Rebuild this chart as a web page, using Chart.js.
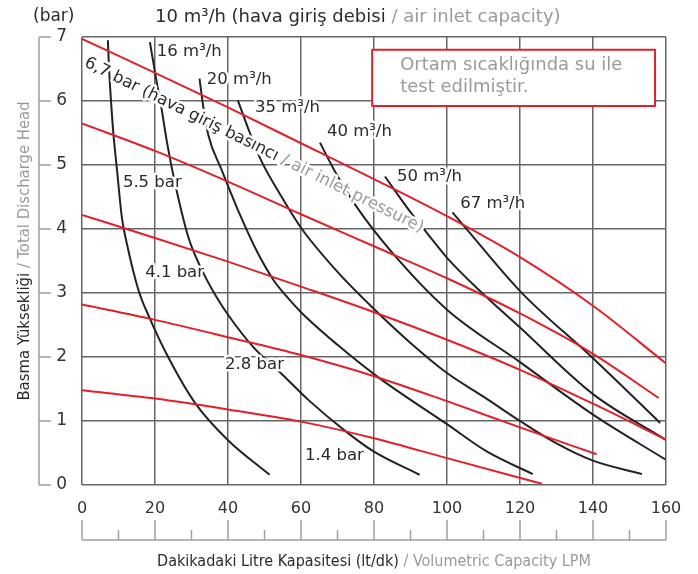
<!DOCTYPE html>
<html>
<head>
<meta charset="utf-8">
<script src="https://cdn.jsdelivr.net/npm/chart.js@4.4.1/dist/chart.umd.min.js"></script>
<style>
  html, body { margin: 0; padding: 0; background: #fff; }
</style>
</head>
<body>
<canvas id="myChart" width="698" height="574"></canvas>
<script>
// red curves: discharge head for each air inlet pressure
const bar67X = [0, 20, 40, 60, 80, 100, 120, 140, 160];
const bar67Y = [6.97, 6.44, 5.9, 5.34, 4.78, 4.2, 3.56, 2.8, 1.9];
const bar55X = [0, 20, 40, 60, 80, 100, 120, 140, 158];
const bar55Y = [5.65, 5.22, 4.74, 4.23, 3.73, 3.23, 2.68, 2.05, 1.36];
const bar41X = [0, 20, 40, 60, 80, 100, 120, 140, 160];
const bar41Y = [4.22, 3.86, 3.49, 3.1, 2.7, 2.27, 1.8, 1.27, 0.71];
const bar28X = [0, 20, 40, 60, 80, 100, 120, 141];
const bar28Y = [2.82, 2.58, 2.31, 2.03, 1.7, 1.31, 0.9, 0.48];
const bar14X = [0, 20, 40, 60, 80, 100, 126];
const bar14Y = [1.48, 1.35, 1.18, 0.99, 0.73, 0.42, 0.02];

// black curves: air consumption (m3/h)
const air10X = [7.1, 7.3, 7.7, 8.6, 9.6, 10.9, 12.3, 15.5, 18.6, 23.6, 31, 40, 51.4];
const air10Y = [6.95, 6.64, 6.22, 5.49, 4.92, 4.19, 3.77, 3.04, 2.6, 2.0, 1.28, 0.7, 0.16];
const air16X = [18.6, 20.3, 21.8, 23.3, 25.5, 29.1, 32.5, 36.8, 40, 47, 55, 62, 72, 80, 92.5];
const air16Y = [6.92, 6.35, 5.88, 5.35, 4.71, 3.88, 3.4, 2.94, 2.66, 2.15, 1.72, 1.33, 0.85, 0.52, 0.16];
const air20X = [32.2, 33.2, 34.6, 38.2, 42.7, 48.2, 52.5, 56, 60, 70, 81, 100, 111, 123.5];
const air20Y = [6.35, 5.92, 5.47, 4.93, 4.3, 3.62, 3.2, 2.95, 2.7, 2.19, 1.69, 0.95, 0.52, 0.17];
const air35X = [42.7, 46, 49, 54.5, 60, 70, 80, 90, 100, 110, 120, 130, 140, 153.4];
const air35Y = [6.01, 5.5, 5.08, 4.52, 4.02, 3.33, 2.75, 2.22, 1.75, 1.38, 1.0, 0.65, 0.38, 0.17];
const air40X = [65.2, 69.3, 75.2, 84.7, 100, 120, 140, 159.8];
const air40Y = [5.35, 4.9, 4.35, 3.65, 2.74, 1.92, 1.1, 0.4];
const air50X = [83, 89.9, 94.9, 100, 110, 120, 140, 159.8];
const air50Y = [4.82, 4.27, 3.91, 3.55, 2.98, 2.46, 1.42, 0.71];
const air67X = [101.5, 105.5, 120, 140, 158.4];
const air67Y = [4.26, 3.99, 3.03, 1.98, 0.97];

// text labels on the plot
const flowLabels = ['16 m³/h', '20 m³/h', '35 m³/h', '40 m³/h', '50 m³/h', '67 m³/h'];
const flowLabelX = [20.5, 34.2, 47.4, 67.1, 86.3, 103.6];
const flowLabelY = [6.77, 6.33, 5.9, 5.52, 4.81, 4.39];
const barLabels = ['5.5 bar', '4.1 bar', '2.8 bar', '1.4 bar'];
const barLabelX = [11.2, 17.3, 39.2, 61.1];
const barLabelY = [4.73, 3.31, 1.875, 0.45];

const FONT = "'DejaVu Sans', sans-serif";
const NARROW = "'DejaVu Sans Condensed', 'DejaVu Sans', sans-serif";
const DARK = '#2b2b2b';
const GREY = '#9a9a9a';
const RED = '#e2202b';

function pts(xs, ys) {
    return xs.map((x, i) => ({ x: x, y: ys[i] }));
}

function curve(xs, ys, color) {
    return {
        data: pts(xs, ys),
        borderColor: color,
        borderWidth: 2,
        pointRadius: 0,
        fill: false,
        cubicInterpolationMode: 'monotone',
    };
}

// draw text made of [text, colour] pieces, with a white halo first
function mixedText(ctx, parts, x, y, halo) {
    let cx = x;
    const xs = parts.map(p => { const s = cx; cx += ctx.measureText(p[0]).width; return s; });
    if (halo) {
        ctx.lineWidth = halo;
        ctx.lineJoin = 'round';
        ctx.strokeStyle = '#fff';
        parts.forEach((p, i) => ctx.strokeText(p[0], xs[i], y));
    }
    parts.forEach((p, i) => {
        ctx.fillStyle = p[1];
        ctx.fillText(p[0], xs[i], y);
    });
}

const decor = {
    id: 'decor',
    afterDatasetsDraw(chart) {
        const ctx = chart.ctx;
        const xs = chart.scales.x, ys = chart.scales.y;
        const area = chart.chartArea;
        ctx.save();
        ctx.textBaseline = 'middle';
        ctx.textAlign = 'left';

        // flow & pressure labels
        ctx.font = '16.5px ' + FONT;
        flowLabels.forEach((t, i) => {
            mixedText(ctx, [[t, DARK]], xs.getPixelForValue(flowLabelX[i]), ys.getPixelForValue(flowLabelY[i]), 5);
        });
        barLabels.forEach((t, i) => {
            mixedText(ctx, [[t, DARK]], xs.getPixelForValue(barLabelX[i]), ys.getPixelForValue(barLabelY[i]), 5);
        });

        // rotated pressure caption
        ctx.save();
        ctx.translate(xs.getPixelForValue(0.9), ys.getPixelForValue(6.61));
        ctx.rotate(26.3 * Math.PI / 180);
        ctx.font = '16.5px ' + FONT;
        mixedText(ctx, [['6,7 bar (hava giriş basıncı ', DARK], ['/ air inlet pressure)', GREY]], 0, 0, 5);
        ctx.restore();

        // note box
        const bx0 = xs.getPixelForValue(79.5), bx1 = xs.getPixelForValue(157);
        const by0 = ys.getPixelForValue(6.8), by1 = ys.getPixelForValue(5.92);
        ctx.fillStyle = '#fff';
        ctx.fillRect(bx0, by0, bx1 - bx0, by1 - by0);
        ctx.strokeStyle = RED;
        ctx.lineWidth = 2;
        ctx.strokeRect(bx0, by0, bx1 - bx0, by1 - by0);
        ctx.font = '18px ' + FONT;
        ctx.fillStyle = GREY;
        ctx.fillText('Ortam sıcaklığında su ile', bx0 + 28, by0 + 16);
        ctx.fillText('test edilmiştir.', bx0 + 28, by0 + 38);

        // rulers under x axis and left of y axis
        ctx.strokeStyle = '#a0a0a0';
        ctx.lineWidth = 1.5;
        const ry = area.bottom + 55;
        ctx.beginPath();
        ctx.moveTo(xs.getPixelForValue(0), ry);
        ctx.lineTo(xs.getPixelForValue(160), ry);
        for (let v = 0; v <= 160; v += 10) {
            const px = xs.getPixelForValue(v);
            ctx.moveTo(px, ry);
            ctx.lineTo(px, v % 20 === 0 ? ry - 20 : ry - 10);
        }
        const rx = area.left - 43;
        ctx.moveTo(rx, ys.getPixelForValue(7));
        ctx.lineTo(rx, ys.getPixelForValue(0));
        for (let v = 0; v <= 7; v++) {
            const py = ys.getPixelForValue(v);
            ctx.moveTo(rx, py);
            ctx.lineTo(rx + 12, py);
        }
        ctx.stroke();

        // titles
        ctx.font = '500 17px ' + FONT;
        mixedText(ctx, [['(bar)', DARK]], 33, 17, 0);
        ctx.font = '18px ' + FONT;
        mixedText(ctx, [['10 m³/h (hava giriş debisi ', DARK], ['/ air inlet capacity)', GREY]], 155, 17, 0);

        ctx.font = '16px ' + NARROW;
        const xt = [['Dakikadaki Litre Kapasitesi (lt/dk) ', DARK], ['/ Volumetric Capacity LPM', GREY]];
        const xw = xt.reduce((s, p) => s + ctx.measureText(p[0]).width, 0);
        mixedText(ctx, xt, (area.left + area.right) / 2 - xw / 2, 562, 0);

        ctx.font = '16.5px ' + NARROW;
        const yt = [['Basma Yüksekliği ', DARK], ['/ Total Discharge Head', GREY]];
        const yw = yt.reduce((s, p) => s + ctx.measureText(p[0]).width, 0);
        ctx.translate(25, 251);
        ctx.rotate(-Math.PI / 2);
        mixedText(ctx, yt, -yw / 2, 0, 0);
        ctx.restore();
    }
};

const ctx = document.getElementById('myChart').getContext('2d');
const chart = new Chart(ctx, {
    type: 'line',
    data: {
        datasets: [
            curve(bar67X, bar67Y, RED),
            curve(bar55X, bar55Y, RED),
            curve(bar41X, bar41Y, RED),
            curve(bar28X, bar28Y, RED),
            curve(bar14X, bar14Y, RED),
            curve(air10X, air10Y, '#222'),
            curve(air16X, air16Y, '#222'),
            curve(air20X, air20Y, '#222'),
            curve(air35X, air35Y, '#222'),
            curve(air40X, air40Y, '#222'),
            curve(air50X, air50Y, '#222'),
            curve(air67X, air67Y, '#222'),
        ]
    },
    options: {
        responsive: false,
        animation: false,
        devicePixelRatio: 1,
        layout: { padding: { top: 37, right: 32, left: 0, bottom: 0 } },
        plugins: { legend: { display: false }, tooltip: { enabled: false } },
        scales: {
            x: {
                type: 'linear',
                min: 0,
                max: 160,
                ticks: { stepSize: 20, color: '#333', padding: 14, font: { family: FONT, size: 16 } },
                grid: { color: '#666', lineWidth: 1.5, drawTicks: false },
                border: { display: false },
                afterFit(s) { s.height = 89; }
            },
            y: {
                type: 'linear',
                min: 0,
                max: 7,
                ticks: { stepSize: 1, color: '#333', padding: 15, font: { family: FONT, size: 17 } },
                grid: { color: '#666', lineWidth: 1.5, drawTicks: false },
                border: { display: false },
                afterFit(s) { s.width = 82; }
            }
        }
    },
    plugins: [decor]
});
</script>
</body>
</html>
